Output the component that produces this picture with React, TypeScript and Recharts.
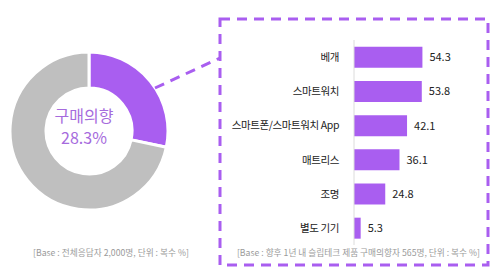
import React from 'react';
import { PieChart, Pie, Cell, BarChart, Bar, XAxis, YAxis, LabelList } from 'recharts';

const pieNames = ['구매의향', '기타'];
const pieValues = [28.3, 71.7];
const pieColors = ['#A95EF0', '#BFBFBF'];

const categories = ['베개', '스마트워치', '스마트폰/스마트워치 App', '매트리스', '조명', '별도 기기'];
const values = [54.3, 53.8, 42.1, 36.1, 24.8, 5.3];

const PURPLE = '#A95EF0';
const FONT = "'Noto Sans CJK KR', 'Noto Sans', sans-serif";

const pieData = pieNames.map((name, i) => ({ name, value: pieValues[i] }));
const barData = categories.map((name, i) => ({ name, value: values[i] }));

// single-line category label (recharts would wrap the long one)
const CategoryTick = (props: any) => {
  const { x, y, payload } = props;
  return (
    <text x={x} y={y} dy={4} textAnchor="end" fontSize={10.5} fill="#222" fontFamily={FONT} letterSpacing={-0.4}>
      {payload.value}
    </text>
  );
};

const App: React.FC = () => {
  return (
    <div style={{ position: 'relative', width: 500, height: 279, margin: -8, background: '#fff', fontFamily: FONT, overflow: 'hidden' }}>
      {/* donut */}
      <div style={{ position: 'absolute', left: 0, top: 42 }}>
        <PieChart width={168} height={168}>
          <Pie
            data={pieData}
            dataKey="value"
            cx={84}
            cy={84}
            innerRadius={43}
            outerRadius={79}
            startAngle={90}
            endAngle={-270}
            stroke="#fff"
            strokeWidth={3}
            isAnimationActive={false}
          >
            {pieData.map((d, i) => (
              <Cell key={d.name} fill={pieColors[i]} />
            ))}
          </Pie>
        </PieChart>
      </div>
      <div style={{ position: 'absolute', left: 34, top: 104, width: 100, textAlign: 'center', color: '#A66BDD', fontSize: 16 }}>
        <div style={{ lineHeight: '22px' }}>구매의향</div>
        <div style={{ lineHeight: '22px' }}>28.3%</div>
      </div>

      {/* dashed callout */}
      <svg width={500} height={279} style={{ position: 'absolute', left: 0, top: 0 }}>
        <rect x={220} y={19} width={268} height={246} fill="none" stroke={PURPLE} strokeWidth={3} strokeDasharray="10 7" />
        <line x1={155} y1={88} x2={220} y2={58} stroke={PURPLE} strokeWidth={3} strokeDasharray="10 7" />
      </svg>

      {/* bars */}
      <div style={{ position: 'absolute', left: 225, top: 40 }}>
        <BarChart
          width={255}
          height={205}
          data={barData}
          layout="vertical"
          margin={{ top: 0, right: 0, bottom: 0, left: 0 }}
          barCategoryGap="20%"
        >
          <XAxis type="number" domain={[0, 100]} hide />
          <YAxis
            type="category"
            dataKey="name"
            width={129}
            axisLine={{ stroke: '#dcdcdc' }}
            tickLine={false}
            tick={<CategoryTick />}
            tickMargin={9}
            interval={0}
          />
          <Bar dataKey="value" fill={PURPLE} isAnimationActive={false}>
            <LabelList dataKey="value" position="right" offset={7} style={{ fontSize: 11, fill: '#222', fontFamily: FONT }} />
          </Bar>
        </BarChart>
      </div>

      {/* footnotes */}
      <div style={{ position: 'absolute', left: 33, top: 246, fontSize: 8.7, color: '#9a9a9a', whiteSpace: 'nowrap' }}>
        [Base : 전체응답자 2,000명, 단위 : 복수 %]
      </div>
      <div style={{ position: 'absolute', right: 20, top: 246, fontSize: 8.7, color: '#9a9a9a', whiteSpace: 'nowrap' }}>
        [Base : 향후 1년 내 슬립테크 제품 구매의향자 565명, 단위 : 복수 %]
      </div>
    </div>
  );
};

export default App;
